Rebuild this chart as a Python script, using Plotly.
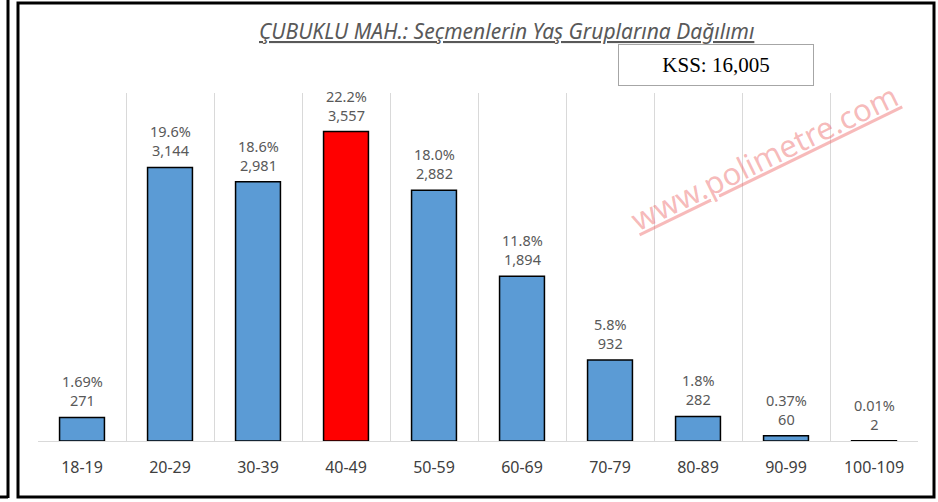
import plotly.graph_objects as go

categories = ["18-19", "20-29", "30-39", "40-49", "50-59", "60-69", "70-79", "80-89", "90-99", "100-109"]
voters = [271, 3144, 2981, 3557, 2882, 1894, 932, 282, 60, 2]
percent_labels = ["1.69%", "19.6%", "18.6%", "22.2%", "18.0%", "11.8%", "5.8%", "1.8%", "0.37%", "0.01%"]
highlight = "40-49"
title_text = "ÇUBUKLU MAH.: Seçmenlerin Yaş Gruplarına Dağılımı"
kss_text = "KSS: 16,005"
watermark = "www.polimetre.com"

colors = ["#FF0000" if c == highlight else "#5B9BD5" for c in categories]

L, T, W, H = 38, 93, 880, 348  # plot area in px


def px(x):
    return (x - L) / W


def py(y):
    return (T + H - y) / H


fig = go.Figure()
fig.add_trace(go.Bar(
    x=categories, y=voters,
    marker=dict(color=colors, line=dict(color="#000000", width=1.5)),
    width=0.51,
    hoverinfo="x+y",
))

for c, v, p in zip(categories, voters, percent_labels):
    fig.add_annotation(x=c, y=v, xref="x", yref="y", yanchor="bottom", yshift=5,
                       text=f"{p}<br>{v:,}", showarrow=False,
                       font=dict(family="Noto Sans", size=14.5, color="#595959"))

fig.update_layout(
    width=938, height=502,
    margin=dict(l=L, r=938 - L - W, t=T, b=502 - T - H),
    paper_bgcolor="white", plot_bgcolor="white",
    showlegend=False,
    xaxis=dict(type="category", tickson="boundaries", showgrid=True, gridcolor="#D9D9D9", gridwidth=1,
               ticks="", showline=True, linecolor="#D9D9D9", linewidth=1, ticklabelstandoff=12,
               tickfont=dict(family="Noto Sans", size=16, color="#404040")),
    yaxis=dict(range=[0, 4000], showgrid=False, showticklabels=False, zeroline=False, ticks=""),
)

# Title
fig.add_annotation(xref="paper", yref="paper", x=px(506), y=py(31), xanchor="center", yanchor="middle",
                   text=f"<i><u>{title_text}</u></i>", showarrow=False,
                   font=dict(family="Noto Sans", size=21, color="#595959"))
# KSS box
fig.add_annotation(xref="paper", yref="paper", x=px(716), y=py(65), xanchor="center", yanchor="middle",
                   text=kss_text, showarrow=False, width=192, height=38,
                   bordercolor="#A6A6A6", borderwidth=1, bgcolor="white",
                   font=dict(family="Liberation Serif", size=21, color="#000000"))
# Watermark
fig.add_annotation(xref="paper", yref="paper", x=px(764), y=py(157), xanchor="center", yanchor="middle",
                   text=f"<u>{watermark}</u>", showarrow=False, textangle=-26,
                   font=dict(family="Noto Sans", size=31, color="rgba(235,90,90,0.42)"))

# Frames
fig.add_shape(type="rect", xref="paper", yref="paper",
              x0=px(18), x1=px(934), y0=py(497), y1=py(3),
              line=dict(color="#000000", width=3), fillcolor="rgba(0,0,0,0)", layer="above")
fig.add_shape(type="line", xref="paper", yref="paper",
              x0=px(8), x1=px(8), y0=py(498), y1=py(-5),
              line=dict(color="#000000", width=3))
fig.add_shape(type="line", xref="paper", yref="paper",
              x0=px(-5), x1=px(8), y0=py(497), y1=py(497),
              line=dict(color="#000000", width=3))

fig.write_html("out.html", config={"displayModeBar": False},
               post_script="document.body.style.margin='0';document.body.style.overflow='hidden';")
